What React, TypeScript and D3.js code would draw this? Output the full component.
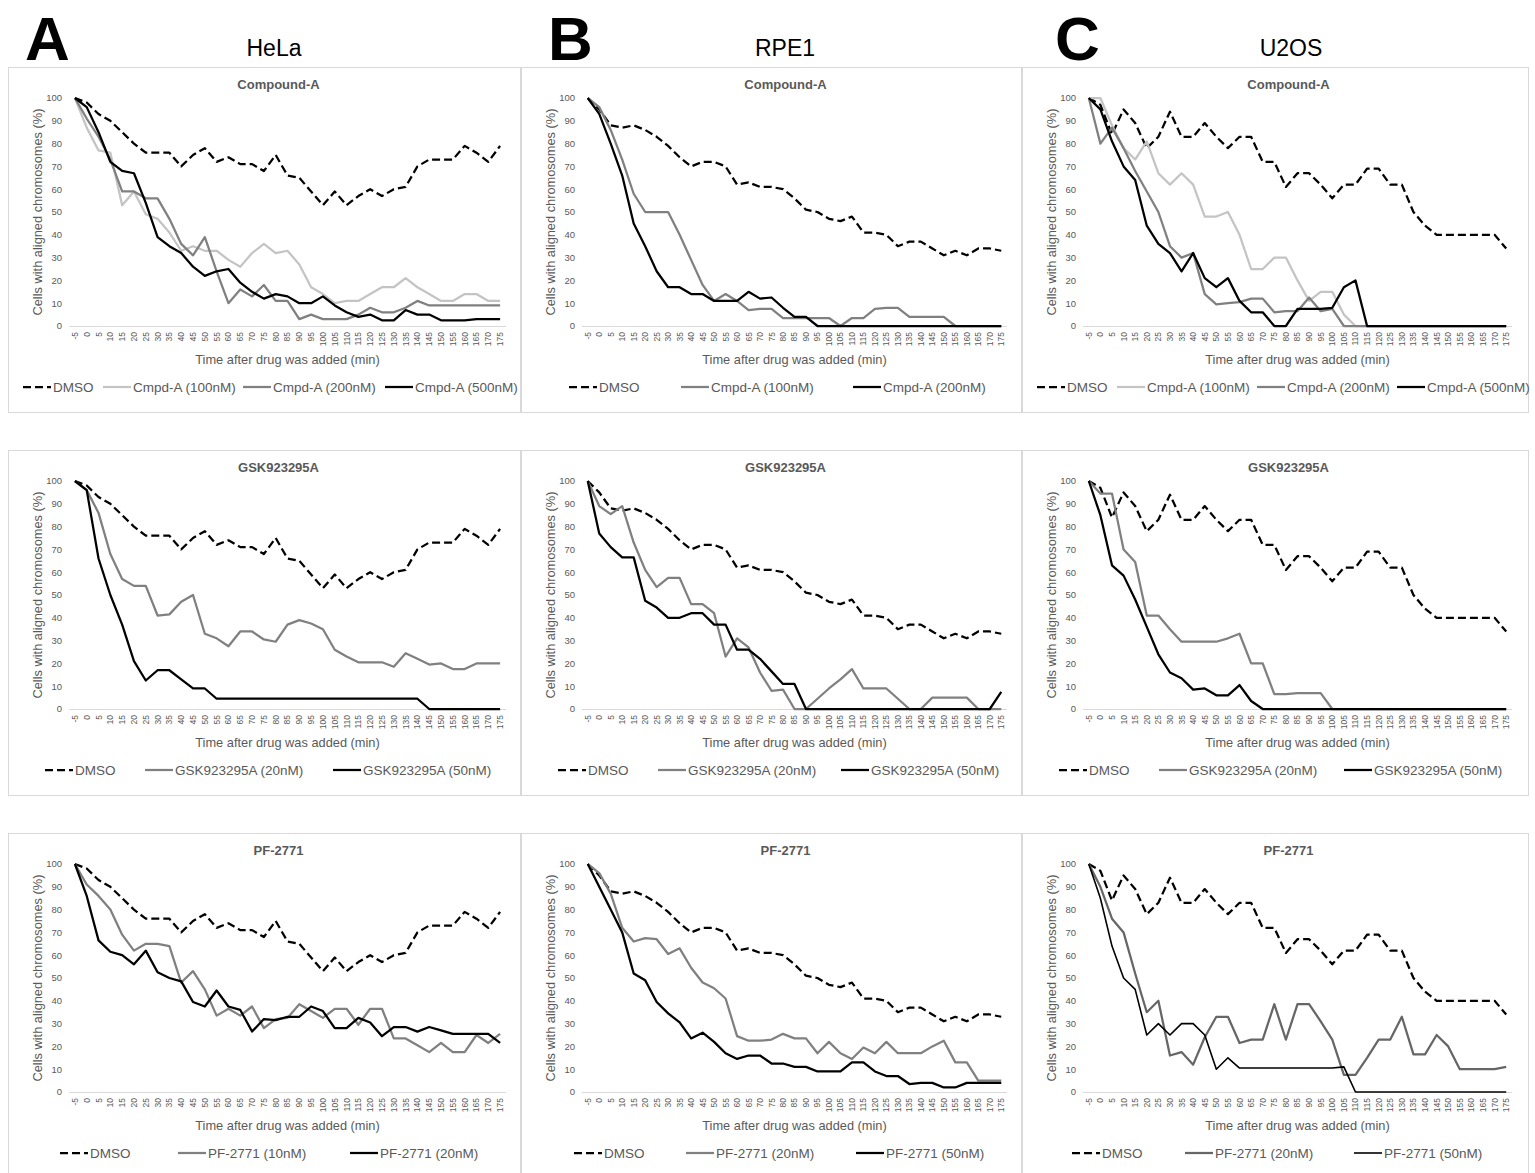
import React from "react";
import * as d3 from "d3";

const TIME_LABELS = ["-5","0","5","10","15","20","25","30","35","40","45","50","55","60","65","70","75","80","85","90","95","100","105","110","115","120","125","130","135","140","145","150","155","160","165","170","175"];
const Y_TICKS = [0,10,20,30,40,50,60,70,80,90,100];

// HeLa
const helaDmso = [100,98,93,90,85,80,76,76,76,70,75,78,72,74,71,71,68,75,66,65,59,53,59,53,57,60,57,60,61,70,73,73,73,79,76,72,79];
const helaCmpdA100 = [100,87,77,76,53,59,49,47,41,33,35,33,33,29,26,32,36,32,33,27,17,14,10,11,11,14,17,17,21,17,14,11,11,14,14,11,11];
const helaCmpdA200 = [100,91,83,73,59,59,56,56,47,36,31,39,24,10,16,13,18,11,11,3,5,3,3,3,5,8,6,6,8,11,9,9,9,9,9,9,9];
const helaCmpdA500 = [100,96,85,72,68,67,54,39,35,32,26,22,24,25,19,15,12,14,13,10,10,13,9,6,4,5,2.5,2.5,7,5,5,2.5,2.5,2.5,3,3,3];
const helaGsk20 = [100,96,86,68,57,54,54,41,41.5,47,50,33,31,27.5,34,34,30.5,29.5,37,39,37.5,35,26,23,20.5,20.5,20.5,18.5,24.5,22,19.5,20,17.5,17.5,20,20,20];
const helaGsk50 = [100,96,66,50,37,21,12.5,17,17,13,9,9,4.5,4.5,4.5,4.5,4.5,4.5,4.5,4.5,4.5,4.5,4.5,4.5,4.5,4.5,4.5,4.5,4.5,4.5,0,0,0,0,0,0,0];
const helaPf10 = [100,91,86,80,69,62,65,65,64,48,53,45,33.5,36.5,33.5,37.5,28,32,32.5,38.5,35.5,32.5,36.5,36.5,29.5,36.5,36.5,23.5,23.5,20.5,17.5,21.5,17.5,17.5,25,21.5,25.5];
const helaPf20 = [100,86,66.5,61.5,60,56,62,52.5,50,48.5,39.5,37.5,44.5,37.5,36,26.5,32,31.5,33,33,37.5,35.5,28,28,32.5,30.5,24.5,28.5,28.5,26.5,28.5,27,25.5,25.5,25.5,25.5,21.5];

// RPE1
const rpeDmso = [100,95,88,87,88,86,83,79,74,70,72,72,70,62,63,61,61,60,56,51,50,47,46,48,41,41,40,35,37,37,34,31,33,31,34,34,33];
const rpeCmpdA100 = [100,96,86,73,58,50,50,50,40,29,18,11,14,11,7,7.5,7.5,3.5,3.5,3.5,3.5,3.5,0,3.5,3.5,7.5,8,8,4,4,4,4,0,0,0,0,0];
const rpeCmpdA200 = [100,93,80,66,45,35,24,17,17,14,14,11,11,11,15,12,12.5,8,4,4,0,0,0,0,0,0,0,0,0,0,0,0,0,0,0,0,0];
const rpeGsk20 = [100,89,85.5,89,73,61,53.5,57.5,57.5,46,46,42,23,31,27,16,8,8.5,0,0,4.5,9,13,17.5,9,9,9,4.5,0,0,5,5,5,5,0,0,0];
const rpeGsk50 = [100,77,71,66.5,66.5,47.5,44.5,40,40,42,42,37,37,26,26,22,16.5,11,11,0,0,0,0,0,0,0,0,0,0,0,0,0,0,0,0,0,7.5];
const rpePf20 = [100,96,87,72,66,67.5,67,60.5,63,54.5,48,45.5,41,24.5,22.5,22.5,23,25.5,23.5,23.5,17,22,17,14.5,19.5,17,22,17,17,17,20,22.5,13,13,5,5,5];
const rpePf50 = [100,90,80,70,52,49,39.5,34.5,30.5,23.5,26,22,17,14.5,16,16,12.5,12.5,11,11,9,9,9,13,13,9,7,7,3.5,4,4,2,2,4,4,4,4];

// U2OS
const u2osDmso = [100,97,84,95,89,78,83,94,83,83,89,83,78,83,83,72,72,61,67,67,62,56,62,62,69,69,62,62,50,44,40,40,40,40,40,40,34];
const u2osCmpdA100 = [100,100,88,78,73,81,67,62,67,62,48,48,50,40,25,25,30,30,20,11,15,15,5,0,0,0,0,0,0,0,0,0,0,0,0,0,0];
const u2osCmpdA200 = [100,80,87,78,68,59,50,35,30,32,14,9.5,10,10.5,12,12,6,6.5,6.5,12.5,6.5,7.5,0,0,0,0,0,0,0,0,0,0,0,0,0,0,0];
const u2osCmpdA500 = [100,95,81,70,64,44,36,32,24,32,21,17,21,11,6,6,0,0,7.5,7.5,7.5,8,17,20,0,0,0,0,0,0,0,0,0,0,0,0,0];
const u2osGsk20 = [100,94.5,94.5,70,64.5,41,41,35,29.5,29.5,29.5,29.5,31,33,20,20,6.5,6.5,7,7,7,0,0,0,0,0,0,0,0,0,0,0,0,0,0,0,0];
const u2osGsk50 = [100,85,63,58.5,48,36,24,16,13.5,8.5,9,6,6,10.5,3.5,0,0,0,0,0,0,0,0,0,0,0,0,0,0,0,0,0,0,0,0,0,0];
const u2osPf20 = [100,90,76,70,52,35,40,16,17.5,12,24,33,33,21.5,23,23,38.5,23,38.5,38.5,31,23,7.5,7.5,15,23,23,33,16.5,16.5,25,20,10,10,10,10,11];
const u2osPf50 = [100,85,64,50,45,25,30,25,30,30,25,10,15,10.5,10.5,10.5,10.5,10.5,10.5,10.5,10.5,10.5,11,0,0,0,0,0,0,0,0,0,0,0,0,0,0];

const LETTERS = ["A","B","C"];
const CELL_LINES = ["HeLa","RPE1","U2OS"];

const LIGHT = "#c4c4c4";
const MID = "#808080";
const DARK = "#000000";

type Series = { name: string; values: number[]; color: string; dash?: string; width?: number };
type Panel = { col: number; row: number; title: string; series: Series[]; legendX: number[] };

const dmso = (values: number[]): Series => ({ name: "DMSO", values, color: "#000", dash: "8,4" });

const PANELS: Panel[] = [
  { col: 0, row: 0, title: "Compound-A", legendX: [15, 95, 235, 377], series: [dmso(helaDmso),
    { name: "Cmpd-A (100nM)", values: helaCmpdA100, color: LIGHT },
    { name: "Cmpd-A (200nM)", values: helaCmpdA200, color: MID },
    { name: "Cmpd-A (500nM)", values: helaCmpdA500, color: DARK }] },
  { col: 1, row: 0, title: "Compound-A", legendX: [48, 160, 332], series: [dmso(rpeDmso),
    { name: "Cmpd-A (100nM)", values: rpeCmpdA100, color: MID },
    { name: "Cmpd-A (200nM)", values: rpeCmpdA200, color: DARK }] },
  { col: 2, row: 0, title: "Compound-A", legendX: [15, 95, 235, 375], series: [dmso(u2osDmso),
    { name: "Cmpd-A (100nM)", values: u2osCmpdA100, color: LIGHT },
    { name: "Cmpd-A (200nM)", values: u2osCmpdA200, color: MID },
    { name: "Cmpd-A (500nM)", values: u2osCmpdA500, color: DARK }] },
  { col: 0, row: 1, title: "GSK923295A", legendX: [37, 137, 325], series: [dmso(helaDmso),
    { name: "GSK923295A (20nM)", values: helaGsk20, color: MID },
    { name: "GSK923295A (50nM)", values: helaGsk50, color: DARK }] },
  { col: 1, row: 1, title: "GSK923295A", legendX: [37, 137, 320], series: [dmso(rpeDmso),
    { name: "GSK923295A (20nM)", values: rpeGsk20, color: MID },
    { name: "GSK923295A (50nM)", values: rpeGsk50, color: DARK }] },
  { col: 2, row: 1, title: "GSK923295A", legendX: [37, 137, 322], series: [dmso(u2osDmso),
    { name: "GSK923295A (20nM)", values: u2osGsk20, color: MID },
    { name: "GSK923295A (50nM)", values: u2osGsk50, color: DARK }] },
  { col: 0, row: 2, title: "PF-2771", legendX: [52, 170, 342], series: [dmso(helaDmso),
    { name: "PF-2771 (10nM)", values: helaPf10, color: MID },
    { name: "PF-2771 (20nM)", values: helaPf20, color: DARK }] },
  { col: 1, row: 2, title: "PF-2771", legendX: [53, 165, 335], series: [dmso(rpeDmso),
    { name: "PF-2771 (20nM)", values: rpePf20, color: MID },
    { name: "PF-2771 (50nM)", values: rpePf50, color: DARK }] },
  { col: 2, row: 2, title: "PF-2771", legendX: [50, 163, 332], series: [dmso(u2osDmso),
    { name: "PF-2771 (20nM)", values: u2osPf20, color: "#666666" },
    { name: "PF-2771 (50nM)", values: u2osPf50, color: DARK, width: 1.6 }] },
];

const COLS = [
  { x: 8, w: 513, plotRight: 498, letterX: 25, labelX: 274 },
  { x: 521, w: 501, plotRight: 486, letterX: 548, labelX: 785 },
  { x: 1022, w: 507, plotRight: 490, letterX: 1055, labelX: 1291 },
];
const ROWS = [{ y: 67, h: 345 }, { y: 450, h: 345 }, { y: 833, h: 345 }];

const FONT = "'Liberation Sans', Arial, Helvetica, sans-serif";
const TEXT_GRAY = "#595959";
const PLOT_LEFT = 61;
const PLOT_TOP = 31;
const PLOT_BOTTOM = 259;

function ChartPanel({ panel }: { panel: Panel }) {
  const c = COLS[panel.col];
  const r = ROWS[panel.row];
  const x = d3.scalePoint<string>().domain(TIME_LABELS).range([PLOT_LEFT, c.plotRight]).padding(0.5);
  const y = d3.scaleLinear().domain([0, 100]).range([PLOT_BOTTOM, PLOT_TOP]);
  const line = d3.line<number>().x((_, i) => x(TIME_LABELS[i]) as number).y((v) => y(v));
  const cx = (PLOT_LEFT + c.plotRight) / 2;
  const legendY = 320;
  return (
    <g transform={`translate(${c.x},${r.y})`}>
      <rect x={0.5} y={0.5} width={c.w - 1} height={r.h} fill="#fff" stroke="#d9d9d9" strokeWidth={1} />
      <text x={cx - 9} y={22} textAnchor="middle" fontFamily={FONT} fontWeight="bold" fontSize={13} fill={TEXT_GRAY}>{panel.title}</text>
      {Y_TICKS.map((t) => (
        <text key={t} x={54} y={y(t)} dy="0.35em" textAnchor="end" fontFamily={FONT} fontSize={9.5} fill={TEXT_GRAY}>{t}</text>
      ))}
      <line x1={PLOT_LEFT} x2={c.plotRight} y1={PLOT_BOTTOM + 0.5} y2={PLOT_BOTTOM + 0.5} stroke="#d9d9d9" strokeWidth={1} />
      {TIME_LABELS.map((t) => (
        <text key={t} transform={`translate(${x(t)},${PLOT_BOTTOM + 6}) rotate(-90)`} dy="0.35em" textAnchor="end" fontFamily={FONT} fontSize={8.5} fill={TEXT_GRAY}>{t}</text>
      ))}
      <text x={cx} y={297} textAnchor="middle" fontFamily={FONT} fontSize={12.8} fill={TEXT_GRAY}>Time after drug was added (min)</text>
      <text transform={`translate(30,${(PLOT_TOP + PLOT_BOTTOM) / 2}) rotate(-90)`} textAnchor="middle" dy="0.35em" fontFamily={FONT} fontSize={12.8} fill={TEXT_GRAY}>Cells with aligned chromosomes (%)</text>
      {panel.series.map((s, i) => (
        <path key={i} d={line(s.values) || ""} fill="none" stroke={s.color} strokeWidth={s.width ?? 2.25} strokeDasharray={s.dash} strokeLinejoin="round" />
      ))}
      {panel.series.map((s, i) => (
        <g key={"lg" + i}>
          <line x1={panel.legendX[i]} x2={panel.legendX[i] + 28} y1={legendY} y2={legendY} stroke={s.color} strokeWidth={s.width ?? 2.25} strokeDasharray={s.dash} />
          <text x={panel.legendX[i] + 30} y={legendY} dy="0.35em" fontFamily={FONT} fontSize={13.5} fill={TEXT_GRAY}>{s.name}</text>
        </g>
      ))}
    </g>
  );
}

export default function App() {
  return (
    <svg width={1535} height={1173} style={{ position: "absolute", left: 0, top: 0, background: "#fff" }}>
      <rect width={1535} height={1173} fill="#fff" />
      {COLS.map((c, i) => (
        <g key={i}>
          <text x={c.letterX} y={60} fontFamily={FONT} fontWeight="bold" fontSize={62} fill="#000">{LETTERS[i]}</text>
          <text x={c.labelX} y={56} textAnchor="middle" fontFamily={FONT} fontSize={23} fill="#000">{CELL_LINES[i]}</text>
        </g>
      ))}
      {PANELS.map((p, i) => <ChartPanel key={i} panel={p} />)}
    </svg>
  );
}
